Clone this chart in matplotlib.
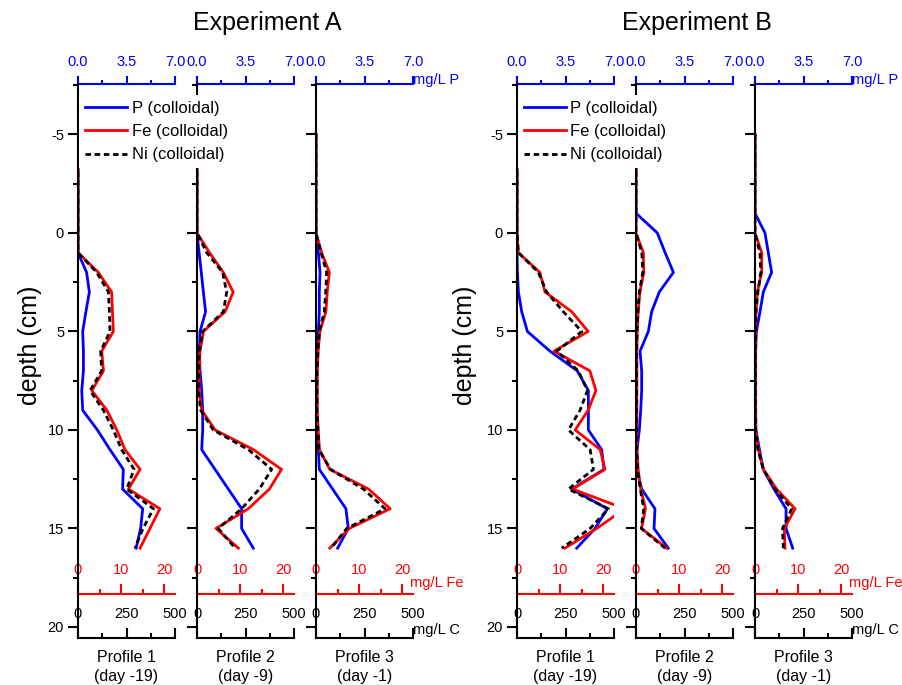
import numpy as np
import matplotlib.pyplot as plt
from matplotlib.ticker import MultipleLocator, FixedLocator

plt.rcParams['font.family'] = ['Liberation Sans', 'DejaVu Sans']
plt.rcParams['axes.unicode_minus'] = False

# sampling depth (cm) of the profiles
depth = [-5, -1, 0, 1, 2, 3, 4, 5, 6, 7, 8, 9, 10, 11, 12, 13, 14, 15, 16]

# Experiment A  (P in mg/L P, Fe in mg/L Fe, Ni drawn on the mg/L C scale)
p_a1 = [0, 0, 0, 0, 0.62, 0.82, 0.57, 0.34, 0.39, 0.39, 0.27, 0.34, 1.4, 2.31, 3.27, 3.22, 4.67, 4.52, 4.19]
fe_a1 = [0, 0, 0, 0, 4.7, 7.8, 8.0, 8.2, 5.5, 5.9, 3.2, 6.7, 9.0, 10.9, 14.4, 11.7, 19.0, 16.7, 14.4]
ni_a1 = [0, 0, 0, 0, 96, 157, 162, 165, 117, 122, 62, 131, 182, 225, 289, 251, 389, 335, 294]

p_a2 = [0, 0, 0, 0.15, 0.31, 0.46, 0.62, 0.22, 0.17, 0.22, 0.34, 0.41, 0.41, 0.34, 1.3, 2.26, 3.22, 3.22, 4.06]
fe_a2 = [0, 0, 0, 2.9, 6.1, 8.4, 6.5, 1.5, 0.7, 0.5, 0.5, 1.1, 4.2, 13.1, 19.6, 16.8, 11.9, 4.4, 9.6]
ni_a2 = [0, 0, 0, 50, 132, 153, 136, 29, 12, 7, 7, 19, 84, 265, 385, 321, 230, 110, 196]

p_a3 = [0, 0, 0, 0.17, 0.29, 0.24, 0.24, 0.17, 0.1, 0.05, 0.05, 0.05, 0.1, 0.17, 0.24, 1.2, 2.16, 2.33, 1.56]
fe_a3 = [0, 0, 0, 1.3, 3.1, 2.6, 2.3, 0.9, 0.5, 0.3, 0.3, 0.3, 0.5, 0.8, 3.2, 12.2, 17.2, 7.7, 3.2]
ni_a3 = [0, 0, 0, 26, 55, 50, 43, 17, 10, 5, 5, 5, 10, 15, 75, 244, 356, 158, 78]

# Experiment B
p_b1 = [0, 0, 0, 0, 0.03, 0.1, 0.34, 0.75, 2.38, 4.35, 5.15, 5.15, 5.15, 6.11, 6.28, 3.95, 6.52, 5.63, 4.31]
fe_b1 = [0, 0, 0, 0.3, 5.3, 6.5, 12.7, 16.5, 8.6, 16.9, 18.3, 16.5, 13.5, 19.3, 20.4, 12.9, 25.0, 18.5, 11.1]
ni_b1 = [0, 0, 0, 7, 110, 153, 239, 334, 205, 316, 363, 325, 265, 377, 394, 265, 471, 377, 230]

p_b2 = [0, 0, 1.54, 2.1, 2.7, 1.68, 1.13, 0.89, 0.29, 0.41, 0.41, 0.34, 0.24, 0.07, 0.05, 0.41, 1.37, 1.3, 2.33]
fe_b2 = [0, 0, 0, 1.7, 1.8, 0.9, 0.5, 0.3, 0.2, 0.2, 0.2, 0.2, 0.2, 0.2, 0.5, 1.1, 2.2, 1.3, 7.1]
ni_b2 = [0, 0, 0, 30, 35, 17, 10, 5, 3, 3, 3, 2, 2, 3, 8, 22, 40, 27, 150]

p_b3 = [0, 0, 0.72, 0.96, 1.2, 0.6, 0.36, 0.1, 0.05, 0.05, 0.05, 0.05, 0.07, 0.32, 0.6, 1.37, 2.24, 2.24, 2.72]
fe_b3 = [0, 0, 0, 1.55, 1.55, 0.55, 0.22, 0.15, 0.1, 0.1, 0.1, 0.1, 0.15, 0.77, 1.94, 5.0, 9.3, 6.8, 6.95]
ni_b3 = [0, 0, 0, 25, 30, 15, 5, 3, 2, 2, 2, 2, 3, 15, 43, 103, 189, 142, 146]

profile_labels = ['Profile 1\n(day -19)', 'Profile 2\n(day -9)', 'Profile 3\n(day -1)']

W, H = 902, 685
fig = plt.figure(figsize=(W / 100, H / 100), dpi=100)

LW = 2.0
SPW = 1.5


def set_ticks(axis, major, minor):
    axis.set_major_locator(FixedLocator(major))
    axis.set_minor_locator(FixedLocator(minor))


def panel(x0, p, fe, ni, idx, first_col):
    ax = fig.add_axes([x0 / W, 47 / H, 97 / W, 554 / H])
    ax_p = ax.twiny()
    ax_fe = ax.twiny()
    for a in (ax, ax_p, ax_fe):
        for s in a.spines.values():
            s.set_visible(False)

    ax.set_ylim(20.56, -7.56)
    ax.set_xlim(0, 500)
    ax_p.set_xlim(0, 7)
    ax_fe.set_xlim(0, 22.5)

    # left depth axis + carbon axis (drawn at the bottom, ticks pointing up)
    ax.spines['left'].set_visible(True)
    ax.spines['left'].set_linewidth(SPW)
    ax.spines['top'].set_visible(True)
    ax.spines['top'].set_linewidth(SPW)
    ax.spines['top'].set_position(('axes', 0))
    ax.xaxis.tick_top()
    set_ticks(ax.xaxis, [0, 250, 500], [125, 375])
    ax.yaxis.set_major_locator(MultipleLocator(5))
    ax.yaxis.set_minor_locator(MultipleLocator(2.5))
    ax.tick_params(axis='both', which='both', direction='out', width=SPW, labelsize=10.5)
    ax.tick_params(which='major', length=7)
    ax.tick_params(which='minor', length=3.5)
    ax.tick_params(axis='x', pad=5)
    ax.tick_params(axis='y', pad=3, labelleft=first_col)

    # P axis on top
    ax_p.spines['top'].set_visible(True)
    ax_p.spines['top'].set_color('#0000ff')
    ax_p.spines['top'].set_linewidth(SPW)
    set_ticks(ax_p.xaxis, [0, 3.5, 7], [1.75, 5.25])
    ax_p.xaxis.set_major_formatter(lambda v, pos: f'{v:.1f}')
    ax_p.tick_params(axis='x', which='both', direction='out', width=SPW, colors='#0000ff',
                     labelsize=10.5, pad=5)
    ax_p.tick_params(which='major', length=6)
    ax_p.tick_params(which='minor', length=3)

    # Fe axis near the bottom
    ax_fe.spines['top'].set_visible(True)
    ax_fe.spines['top'].set_color('#ff0000')
    ax_fe.spines['top'].set_linewidth(SPW)
    ax_fe.spines['top'].set_position(('axes', 0.08))
    set_ticks(ax_fe.xaxis, [0, 10, 20], [5, 15])
    ax_fe.tick_params(axis='x', which='both', direction='out', width=SPW, colors='#ff0000',
                      labelsize=10.5, pad=5)
    ax_fe.tick_params(which='major', length=7)
    ax_fe.tick_params(which='minor', length=3.5)

    lp, = ax_p.plot(p, depth, color='#0000ff', lw=LW)
    lf, = ax_fe.plot(fe, depth, color='#ff0000', lw=LW)
    ln, = ax.plot(ni, depth, color='k', lw=LW, dashes=(2, 1.3))

    ax.set_zorder(ax_fe.get_zorder() + 1)
    ax.patch.set_visible(False)

    cx = (x0 + 48.5) / W
    fig.text(cx, 1 - 667 / H, profile_labels[idx], ha='center', va='center',
             fontsize=11.5, linespacing=1.25)

    if idx == 2:
        ax.text(1.0, 1.008, 'mg/L P', transform=ax.transAxes, color='#0000ff',
                fontsize=10.5, ha='left', va='center')
        ax.text(0.97, 0.099, 'mg/L Fe', transform=ax.transAxes, color='#ff0000',
                fontsize=10.5, ha='left', va='center')
        ax.text(1.0, 0.0145, 'mg/L C', transform=ax.transAxes, color='k',
                fontsize=10.5, ha='left', va='center')
    return lp, lf, ln


experiments = [
    ('Experiment A', 267, 30, [78, 197, 316],
     [(p_a1, fe_a1, ni_a1), (p_a2, fe_a2, ni_a2), (p_a3, fe_a3, ni_a3)]),
    ('Experiment B', 697, 465, [517, 636, 755],
     [(p_b1, fe_b1, ni_b1), (p_b2, fe_b2, ni_b2), (p_b3, fe_b3, ni_b3)]),
]

for title, tx, dx, lefts, series in experiments:
    handles = None
    for i, (x0, (p, fe, ni)) in enumerate(zip(lefts, series)):
        h = panel(x0, p, fe, ni, i, i == 0)
        if i == 0:
            handles = h
    fig.text(tx / W, 1 - 23 / H, title, ha='center', va='center', fontsize=18)
    fig.text(dx / W, 1 - 345 / H, 'depth (cm)', ha='center', va='center',
             rotation=90, fontsize=18)
    fig.legend(handles, ['P (colloidal)', 'Fe (colloidal)', 'Ni (colloidal)'],
               loc='upper left', bbox_to_anchor=((lefts[0] + 1) / W, 1 - 95 / H),
               fontsize=12, frameon=True, fancybox=False, framealpha=1,
               facecolor='white', edgecolor='none', borderpad=0.35,
               handlelength=2.5, handletextpad=0.3, labelspacing=0.5,
               borderaxespad=0)

fig.savefig('out.png', dpi=100, facecolor='white')
